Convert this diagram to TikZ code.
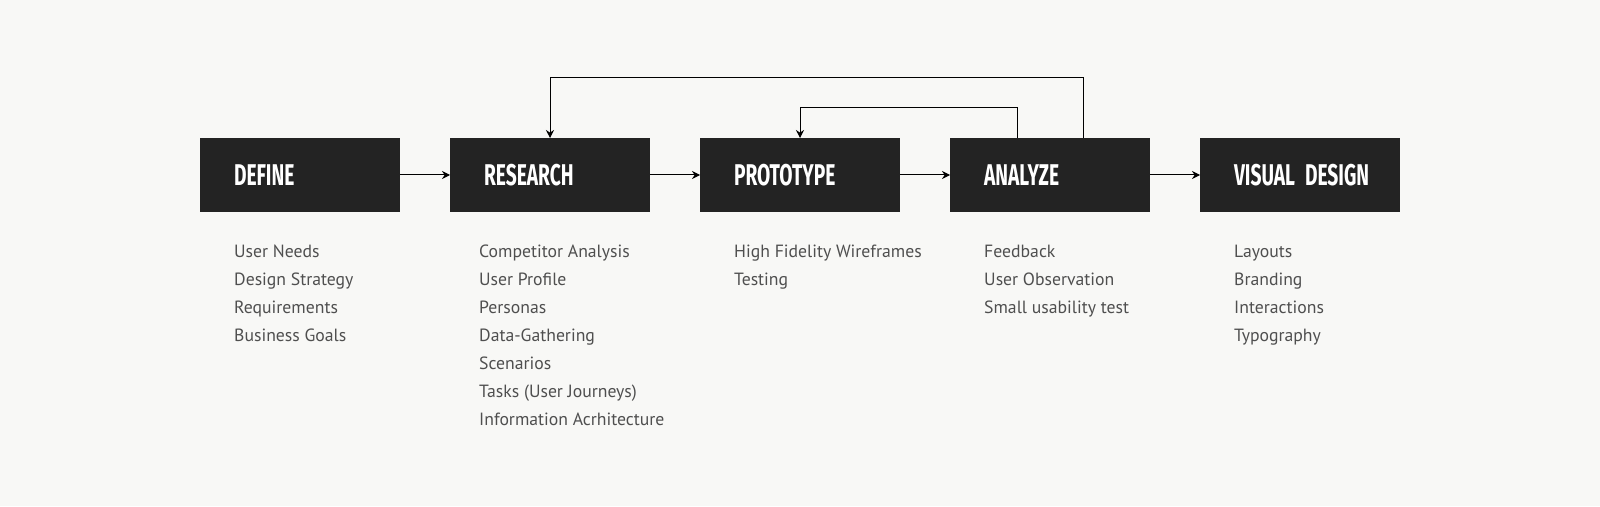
\documentclass[tikz,border=0pt]{standalone}
\usepackage{fontspec}
\setmainfont{PT Sans}
\newfontfamily\stagefont{Fira Sans}[FakeStretch=0.64]
\usetikzlibrary{positioning,arrows.meta}
\definecolor{UXBg}{HTML}{F8F8F6}
\definecolor{UXBox}{HTML}{232323}
\definecolor{UXText}{HTML}{4F4F4F}
\begin{document}
\begin{tikzpicture}[
  x=1pt, y=1pt,
  node distance=50pt,
  stage/.style={fill=UXBox, text=white, outer sep=0pt, minimum width=200pt, minimum height=74pt, text width=132pt, inner xsep=34pt, inner ysep=0pt, align=left, font=\stagefont\bfseries\fontsize{30}{30}\selectfont},
  items/.style={inner sep=0pt, align=left, text=UXText, font=\fontsize{17.7}{28}\selectfont},
  arrow/.style={-{Stealth[length=8pt, width=8pt]}, draw=black, line width=1pt}
]
\useasboundingbox[fill=UXBg] (0,0) rectangle (1600,506);
\node[stage] (define) at (300,331) {DEFINE};
\node[stage, right=of define] (research) {RESEARCH};
\node[stage, right=of research] (prototype) {PROTOTYPE};
\node[stage, right=of prototype] (analyze) {ANALYZE};
\node[stage, right=of analyze] (visual) {\mbox{VISUAL DESIGN}};
\node[items, below right=33pt and 34pt of define.south west] (defineitems) {User Needs\\Design Strategy\\Requirements\\Business Goals};
\node[items, below right=33pt and 29pt of research.south west] (researchitems) {Competitor Analysis\\User Profile\\Personas\\Data-Gathering\\Scenarios\\Tasks (User Journeys)\\Information Acrhitecture};
\node[items, below right=33pt and 34pt of prototype.south west] (prototypeitems) {High Fidelity Wireframes\\Testing};
\node[items, below right=33pt and 34pt of analyze.south west] (analyzeitems) {Feedback\\User Observation\\Small usability test};
\node[items, below right=33pt and 34pt of visual.south west] (visualitems) {Layouts\\Branding\\Interactions\\Typography};
\draw[arrow] (define) -- (research);
\draw[arrow] (research) -- (prototype);
\draw[arrow] (prototype) -- (analyze);
\draw[arrow] (analyze) -- (visual);
\draw[arrow] ([xshift=-33pt]analyze.north) -- ++(0,30) -| (prototype.north);
\draw[arrow] ([xshift=33pt]analyze.north) -- ++(0,60) -| (research.north);
\end{tikzpicture}
\end{document}
